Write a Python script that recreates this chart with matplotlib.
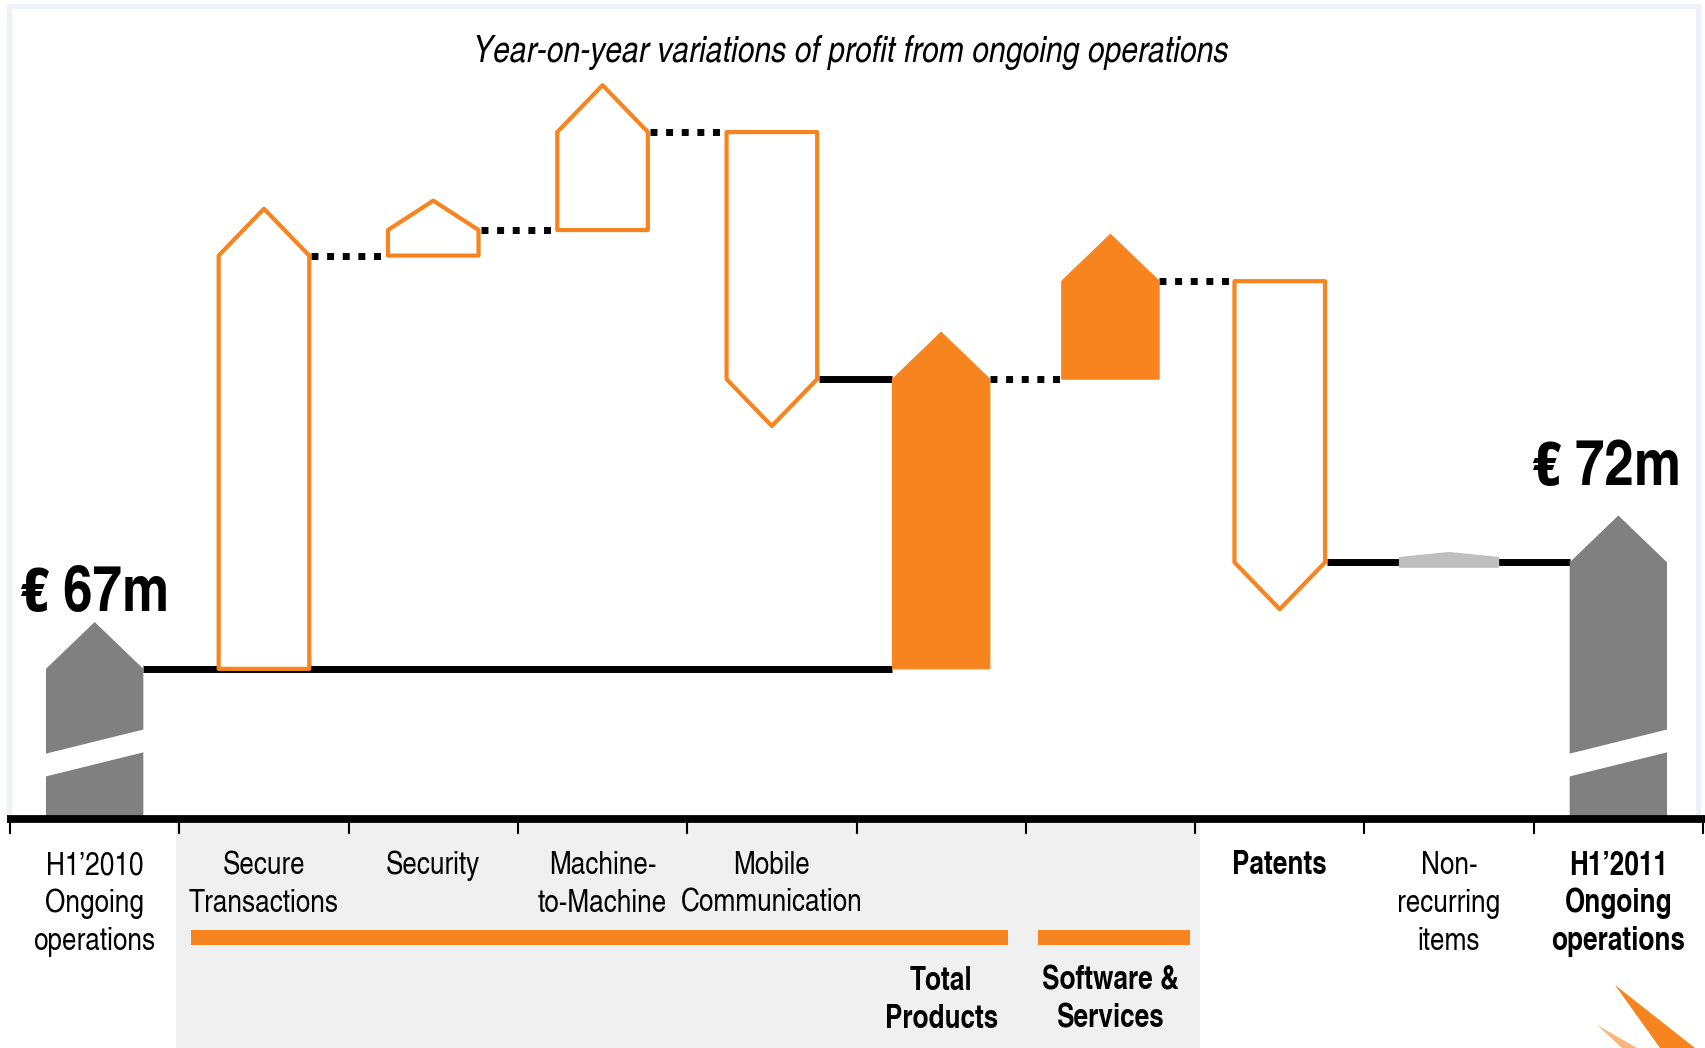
import matplotlib
matplotlib.use("Agg")
import matplotlib.pyplot as plt
from matplotlib.patches import Polygon, Rectangle
from matplotlib import font_manager as fm

# ---------------- data ----------------
categories = ["H1\u20192010\nOngoing\noperations", "Secure\nTransactions", "Security",
              "Machine-\nto-Machine", "Mobile\nCommunication", "", "",
              "Patents", "Non-\nrecurring\nitems", "H1\u20192011\nOngoing\noperations"]
bold_categories = [False, False, False, False, False, False, False, True, False, True]
group_labels = ["Total\nProducts", "Software &\nServices"]
start_value = 67.0
product_items = [19.4, 1.2, 4.6, -11.6]   # Secure Tx, Security, M2M, Mobile
software_services = 4.6
patents = -13.2
non_recurring = 0.0
start_label = "\u20ac 67m"
end_label = "\u20ac 72m"
title = "Year-on-year variations of profit from ongoing operations"

# ---------------- fonts ----------------
_avail = {f.name for f in fm.fontManager.ttflist}
_pref = ["Nimbus Sans Narrow", "TeX Gyre Heros Cn", "Liberation Sans Narrow",
         "Arial Narrow", "Roboto Condensed", "Archivo Narrow", "PT Sans Narrow"]
_chosen = [n for n in _pref if n in _avail]
if _chosen:
    FONT = [_chosen[0], "DejaVu Sans"]
    STRETCH = "normal"
else:
    FONT = ["DejaVu Sans"]
    STRETCH = "condensed"

# ---------------- style / layout ----------------
ORANGE = "#F8841F"
GRAY = "#808080"
LIGHT = "#BFBFBF"
W, H = 1705, 1048
PPC = 169.3            # pixels per column
Y_BOTTOM, Y_TOP = 49.2, 98.4
BASE = 59.96           # axis line level
HEAD = 2.2

fig = plt.figure(figsize=(W / 100, H / 100), dpi=100)
deco = fig.add_axes([0, 0, 1, 1], zorder=0)
deco.set_xlim(0, W); deco.set_ylim(H, 0); deco.axis("off")
ax = fig.add_axes([0, 0, 1, 1], zorder=1)
ax.set_xlim(-0.5 - 10 / PPC, -0.5 + (W - 10) / PPC)
ax.set_ylim(Y_BOTTOM, Y_TOP)
ax.axis("off")

# frame (decoration)
deco.plot([9, 9, 1698, 1698], [819, 6, 6, 819], color="#EEF1F7", lw=3.6,
          solid_joinstyle="miter")
# logo swoosh (decoration)
deco.add_patch(Polygon([(1615, 985), (1695, 1048), (1660, 1048)], closed=True,
                       facecolor=ORANGE, edgecolor="none"))
deco.add_patch(Polygon([(1597, 1025), (1637, 1048), (1622, 1048)], closed=True,
                       facecolor=ORANGE, edgecolor="none", alpha=0.6))

# grey band under product / software columns
ax.add_patch(Rectangle((0.48, Y_BOTTOM), 6.53 - 0.48, 59.8 - Y_BOTTOM,
                       facecolor="#F0F0F0", edgecolor="none", zorder=0))

# ---------------- computations ----------------
total_products = sum(product_items)
end_value = start_value + total_products + software_services + patents + non_recurring

HW_H = 0.535 / 2   # hollow half width
HW_F = 0.575 / 2   # filled half width


def arrow_pts(xc, hw, y_from, y_to, head):
    if y_to >= y_from:
        return [(xc - hw, y_from), (xc + hw, y_from), (xc + hw, y_to),
                (xc, y_to + head), (xc - hw, y_to)]
    return [(xc - hw, y_from), (xc + hw, y_from), (xc + hw, y_to),
            (xc, y_to - head), (xc - hw, y_to)]


def head_for(v):
    return min(HEAD, max(abs(v) * 1.15, 0.25))


bars = []  # (col, y_from, y_to, kind)
bars.append((0, BASE, start_value, "gray"))
level = start_value
for i, v in enumerate(product_items):
    bars.append((1 + i, level, level + v, "hollow"))
    level += v
after_mobile = level
bars.append((5, start_value, start_value + total_products, "filled"))
lvl_tp = start_value + total_products
bars.append((6, lvl_tp, lvl_tp + software_services, "filled"))
lvl_ss = lvl_tp + software_services
bars.append((7, lvl_ss, lvl_ss + patents, "hollow"))
lvl_pat = lvl_ss + patents
bars.append((9, BASE, end_value, "gray"))

half = {}
for col, y0, y1, kind in bars:
    v = y1 - y0
    if kind == "gray":
        hw = HW_F
        ax.add_patch(Polygon(arrow_pts(col, hw, y0, y1, HEAD), closed=True,
                             facecolor=GRAY, edgecolor="none", zorder=3))
        # axis break stripe
        BL, RISE, GAP = 61.93, 1.17, 1.07
        ax.add_patch(Polygon([(col - hw - 0.01, BL), (col + hw + 0.01, BL + RISE),
                              (col + hw + 0.01, BL + RISE + GAP), (col - hw - 0.01, BL + GAP)],
                             closed=True, facecolor="white", edgecolor="none", zorder=3.5))
    elif kind == "filled":
        hw = HW_F
        ax.add_patch(Polygon(arrow_pts(col, hw, y0, y1, head_for(v)), closed=True,
                             facecolor=ORANGE, edgecolor=ORANGE, lw=0.8,
                             joinstyle="round", zorder=3))
    else:
        hw = HW_H
        ax.add_patch(Polygon(arrow_pts(col, hw, y0, y1, head_for(v)), closed=True,
                             facecolor="white", edgecolor=ORANGE, lw=3.0,
                             joinstyle="round", zorder=3))
        hw = HW_H + 0.012
    half[col] = hw

# non-recurring items (near zero) -> thin light-grey arrow
nr_col = 8
nr_hw = 0.58 / 2
nr_body = 0.42
nr_lo = lvl_pat + non_recurring / 2 - nr_body / 2
nr_hi = nr_lo + nr_body
ax.add_patch(Polygon(arrow_pts(nr_col, nr_hw, nr_lo, nr_hi, 0.23), closed=True,
                     facecolor=LIGHT, edgecolor=LIGHT, lw=1.5, joinstyle="round", zorder=3))
half[nr_col] = nr_hw

# ---------------- connectors ----------------
lvl_nr = lvl_pat + non_recurring
connectors = [  # (from col, to col, level, style)
    (0, 5, start_value, "solid"),
    (1, 2, start_value + product_items[0], "dot"),
    (2, 3, start_value + sum(product_items[:2]), "dot"),
    (3, 4, start_value + sum(product_items[:3]), "dot"),
    (4, 5, after_mobile, "solid"),
    (5, 6, lvl_tp, "dot"),
    (6, 7, lvl_ss, "dot"),
    (7, 8, lvl_pat, "solid"),
    (8, 9, lvl_nr, "solid"),
]
for c0, c1, y, style in connectors:
    x0 = c0 + half[c0]
    x1 = c1 - half[c1]
    if style == "solid":
        ax.plot([x0, x1], [y, y], color="black", lw=5.0, solid_capstyle="butt", zorder=2)
    else:
        ax.plot([x0, x1], [y, y], color="black", lw=5.0, dash_capstyle="butt",
                linestyle=(0, (1, 1.25)), zorder=2)

# ---------------- baseline & ticks ----------------
ax.plot([-0.52, 9.52], [BASE, BASE], color="black", lw=5.6, solid_capstyle="butt", zorder=4)
for b in range(len(categories) + 1):
    ax.plot([b - 0.5, b - 0.5], [BASE, 59.3], color="black", lw=1.5, zorder=4)

# group bars
ax.add_patch(Rectangle((0.57, 54.03), 5.395 - 0.57, 0.7, facecolor=ORANGE,
                       edgecolor="none", zorder=2))
ax.add_patch(Rectangle((5.572, 54.03), 6.47 - 5.572, 0.7, facecolor=ORANGE,
                       edgecolor="none", zorder=2))

# ---------------- texts ----------------
TXT = dict(family=FONT, fontstretch=STRETCH, color="black", zorder=5)
ROW0, ROW_STEP = 57.36, 1.775
for i, lab in enumerate(categories):
    for j, line in enumerate(lab.split("\n")):
        if not line:
            continue
        ax.text(i, ROW0 - j * ROW_STEP, line, ha="center", va="baseline", fontsize=23,
                fontweight="bold" if bold_categories[i] else "normal", **TXT)
G0 = 51.93
for col, lab in zip([5, 6], group_labels):
    for j, line in enumerate(lab.split("\n")):
        ax.text(col, G0 - j * ROW_STEP, line, ha="center", va="baseline", fontsize=23,
                fontweight="bold", **TXT)

ax.text(4.467, 95.5, title, ha="center", va="baseline", fontsize=26.5, style="italic", **TXT)
ax.text(0.0, start_value + 2.72, start_label, ha="center", va="baseline", fontsize=46.5,
        fontweight="bold", **TXT)
ax.text(8.93, end_value + 3.64, end_label, ha="center", va="baseline", fontsize=46.5,
        fontweight="bold", **TXT)

fig.savefig("out.png", dpi=100)
